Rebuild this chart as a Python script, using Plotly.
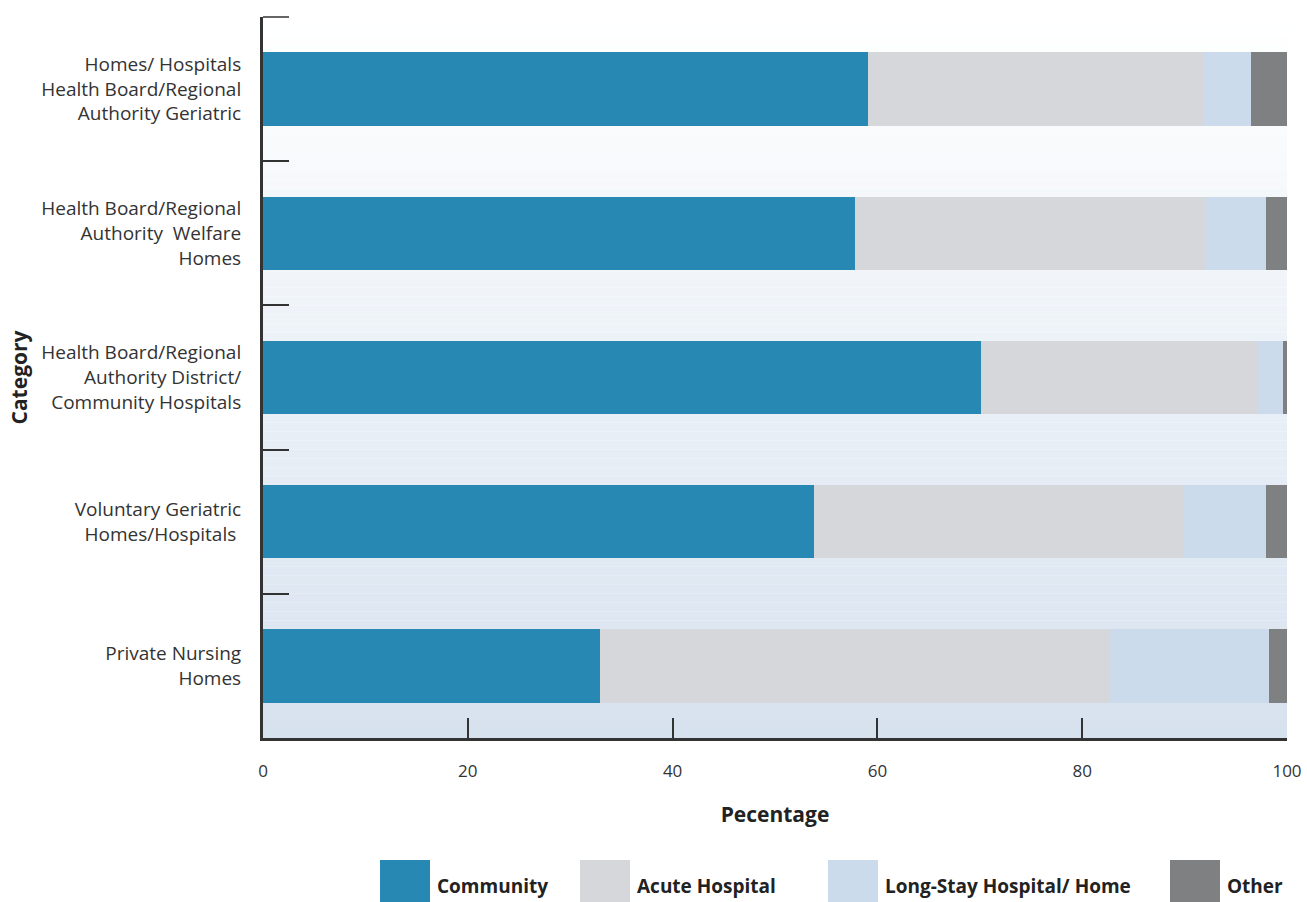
import plotly.graph_objects as go

categories = [
    "Homes/ Hospitals<br>Health Board/Regional<br>Authority Geriatric",
    "Health Board/Regional<br>Authority  Welfare<br>Homes",
    "Health Board/Regional<br>Authority District/<br>Community Hospitals",
    "Voluntary Geriatric<br>Homes/Hospitals ",
    "Private Nursing<br>Homes",
]
series_names = ["Community", "Acute Hospital", "Long-Stay Hospital/ Home", "Other"]
community = [59.1, 57.8, 70.1, 53.8, 32.9]
acute = [32.8, 34.2, 27.1, 36.0, 49.8]
long_stay = [4.6, 5.9, 2.4, 8.1, 15.5]
other = [3.5, 2.1, 0.4, 2.1, 1.8]
x_ticks = [0, 20, 40, 60, 80, 100]

colors = ["#2888b4", "#d6d7db", "#cbdbeb", "#7f8081"]
values = [community, acute, long_stay, other]

W, H = 1307, 902
L, R, T, B = 263, 20, 17, 164
pw, ph = W - L - R, H - T - B


def px(x):  # page pixel -> paper
    return (x - L) / pw


def py(y):
    return (H - B - y) / ph


fig = go.Figure()
for name, vals, c in zip(series_names, values, colors):
    fig.add_trace(go.Bar(
        y=categories, x=vals, name=name, orientation="h",
        marker=dict(color=c, line=dict(width=0)), showlegend=False,
    ))

# gradient background
shapes = []
n = 80
c0 = (255, 255, 255)
c1 = (215, 226, 239)
for i in range(n):
    t = i / (n - 1)
    col = tuple(round(a + (b - a) * t) for a, b in zip(c0, c1))
    shapes.append(dict(
        type="rect", xref="paper", yref="paper", layer="below",
        x0=0, x1=1, y0=1 - (i + 1) / n, y1=1 - i / n,
        fillcolor="rgb(%d,%d,%d)" % col, line=dict(width=0),
    ))

# top boundary tick
shapes.append(dict(
    type="line", xref="paper", yref="paper", x0=0, x1=26 / pw, y0=1, y1=1,
    line=dict(color="#333", width=1.5),
))

# legend
font_fam = "Open Sans, Liberation Sans, sans-serif"
annotations = []
leg_x = [380, 580, 828, 1170]
for name, c, lx in zip(series_names, colors, leg_x):
    shapes.append(dict(
        type="rect", xref="paper", yref="paper",
        x0=px(lx), x1=px(lx + 50), y0=py(904), y1=py(860),
        fillcolor=c, line=dict(width=0),
    ))
    annotations.append(dict(
        xref="paper", yref="paper", x=px(lx + 55), y=py(886),
        text="<b>%s</b>" % name, showarrow=False, xanchor="left", yanchor="middle",
        font=dict(family=font_fam, size=19, color="#222"),
    ))

fig.update_layout(
    width=W, height=H,
    margin=dict(l=L, r=R, t=T, b=B),
    barmode="stack", bargap=0.49,
    plot_bgcolor="rgba(0,0,0,0)", paper_bgcolor="white",
    shapes=shapes, annotations=annotations,
    font=dict(family=font_fam, size=19, color="#333"),
    xaxis=dict(
        range=[0, 100], tickvals=x_ticks, ticks="inside", ticklen=20, tickwidth=1.5,
        tickcolor="#333", showline=True, linecolor="#333", linewidth=3,
        showgrid=False, zeroline=False, ticklabelstandoff=16,
        ticklabeloverflow="allow", automargin=False,
        tickfont=dict(size=17),
        title=dict(text="<b>Pecentage</b>", font=dict(size=21, color="#222"), standoff=26),
    ),
    yaxis=dict(
        autorange="reversed", ticks="inside", tickson="boundaries", ticklen=26,
        tickwidth=1.5, tickcolor="#333", showline=True, linecolor="#333", linewidth=3,
        showgrid=False, ticklabelstandoff=15,
        title=dict(text="<b>Category</b>", font=dict(size=21, color="#222"), standoff=8),
    ),
)

fig.write_html(
    "out.html",
    config={"displayModeBar": False},
    post_script=(
        "document.body.style.margin='0';"
        "document.body.style.overflow='hidden';"
        "document.documentElement.style.overflow='hidden';"
    ),
)
